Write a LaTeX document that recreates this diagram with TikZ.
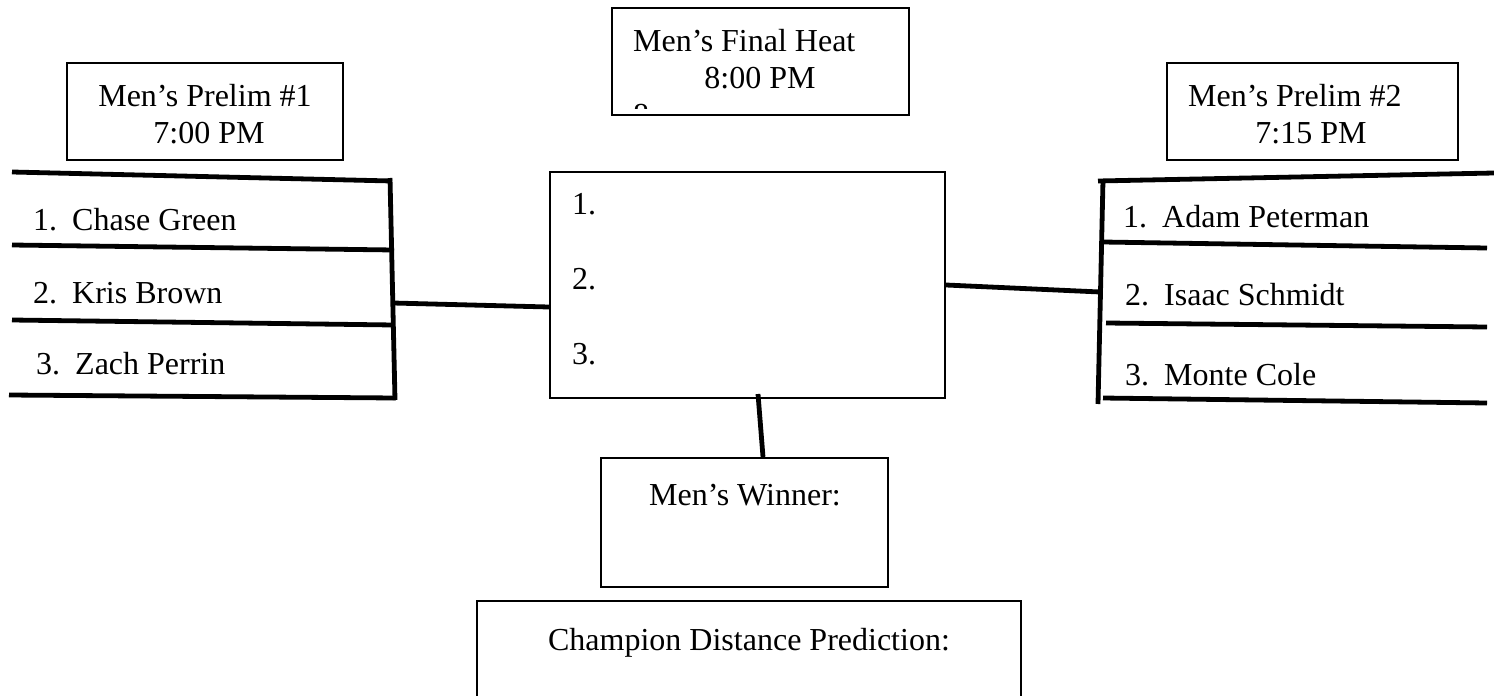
\documentclass[tikz,border=0pt]{standalone}
\usepackage{fontspec}
\setmainfont{Liberation Serif}
\begin{document}
\begin{tikzpicture}[x=1pt,y=-1pt,
  box/.style={draw=black,line width=2.2pt,inner sep=0pt},
  thick line/.style={line width=4.8pt,line cap=butt},
  lbl/.style={font=\fontsize{32}{37}\selectfont,inner sep=0pt,anchor=base west},
  ctr/.style={font=\fontsize{32}{37}\selectfont,inner sep=0pt,anchor=base}]
\useasboundingbox (0,0) rectangle (1494,696);
% header boxes
\draw[box] (67,63) rectangle (343,160);
\node[ctr] (p1a) at (205,106) {Men’s Prelim \#1};
\node[ctr] (p1b) at (209,143) {7:00 PM};
\draw[box] (1167,63) rectangle (1458,160);
\node[lbl] (p2a) at (1188,106) {Men’s Prelim \#2};
\node[ctr] (p2b) at (1311,143) {7:15 PM};
\draw[box] (612,8) rectangle (909,115);
\node[lbl] (fha) at (633,51) {Men’s Final Heat};
\node[ctr] (fhb) at (760,88) {8:00 PM};
\begin{scope}
\clip (612,98) rectangle (909,108);
\node[lbl] (fhc) at (633,125) {8};
\end{scope}
% center box
\node[box,minimum width=395pt,minimum height=226pt] (final) at (747.5,285) {};
\node[lbl] (f1) at (572,214) {1.};
\node[lbl] (f2) at (572,289) {2.};
\node[lbl] (f3) at (572,364) {3.};
% left bracket
\coordinate (lt) at (390,178);
\coordinate (lb) at (395,400);
\coordinate (lm) at (393,303);
\draw[thick line] (12,172) -- (392,181);
\draw[thick line] (12,245) -- (394,250);
\draw[thick line] (12,320) -- (394,325);
\draw[thick line] (9,395) -- (396,398);
\draw[thick line] (lt) -- (lb);
\draw[thick line] (lm) -- (final.west |- 0,307);
\node[lbl] (l1) at (33,230) {1.};
\node[lbl] (l1n) at (72,230) {Chase Green};
\node[lbl] (l2) at (33,303) {2.};
\node[lbl] (l2n) at (72,303) {Kris Brown};
\node[lbl] (l3) at (36,374) {3.};
\node[lbl] (l3n) at (75,374) {Zach Perrin};
% right bracket
\coordinate (rt) at (1103,180);
\coordinate (rb) at (1098,404);
\coordinate (rm) at (1100,292);
\draw[thick line] (1098,181) -- (1494,173);
\draw[thick line] (1103,242) -- (1487,248);
\draw[thick line] (1106,323) -- (1487,327);
\draw[thick line] (1103,398) -- (1487,403);
\draw[thick line] (rt) -- (rb);
\draw[thick line] (final.east |- 0,285) -- (rm);
\node[lbl] (r1) at (1123,227) {1.};
\node[lbl] (r1n) at (1162,227) {Adam Peterman};
\node[lbl] (r2) at (1125,305) {2.};
\node[lbl] (r2n) at (1164,305) {Isaac Schmidt};
\node[lbl] (r3) at (1125,385) {3.};
\node[lbl] (r3n) at (1164,385) {Monte Cole};
% winner
\node[box,minimum width=287pt,minimum height=129pt] (win) at (744.5,522.5) {};
\node[ctr] (wint) at (745,505) {Men’s Winner:};
\draw[thick line] (758,394) -- (win.north -| 763,0);
% champion
\draw[box] (477,710) -- (477,601) -- (1021,601) -- (1021,710);
\node[ctr] (champ) at (749,650) {Champion Distance Prediction:};
\end{tikzpicture}
\end{document}
